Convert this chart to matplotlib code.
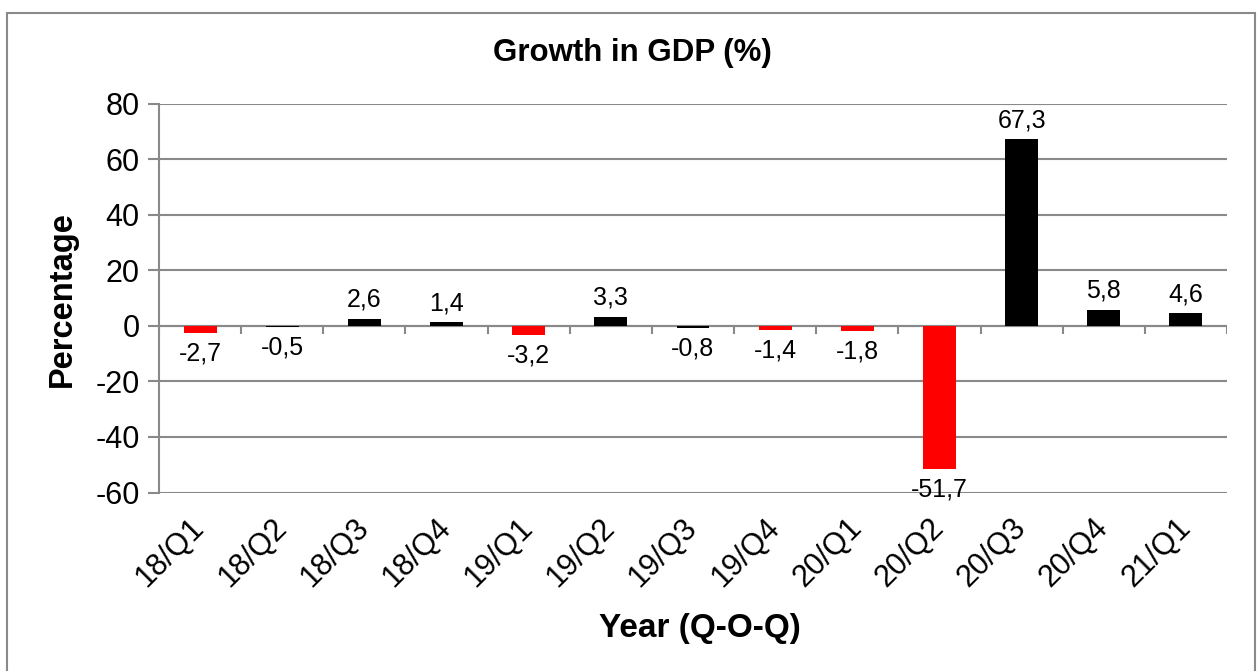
import matplotlib.pyplot as plt
import matplotlib.patches as mpatches
import numpy as np

plt.rcParams['font.family'] = ['Liberation Sans', 'DejaVu Sans']

quarters = ["18/Q1", "18/Q2", "18/Q3", "18/Q4", "19/Q1", "19/Q2", "19/Q3",
            "19/Q4", "20/Q1", "20/Q2", "20/Q3", "20/Q4", "21/Q1"]
growth = [-2.7, -0.5, 2.6, 1.4, -3.2, 3.3, -0.8, -1.4, -1.8, -51.7, 67.3, 5.8, 4.6]
bar_colors = ["red", "black", "black", "black", "red", "black", "black",
              "red", "red", "red", "black", "black", "black"]
yticks = [-60, -40, -20, 0, 20, 40, 60, 80]

grid_gray = "#898989"

fig = plt.figure(figsize=(12.57, 6.71), dpi=100)
ax = fig.add_axes([159 / 1257, 1 - 492.5 / 671, (1227 - 159) / 1257, (492.5 - 104) / 671])

# chart frame
fig.patches.append(mpatches.Rectangle((7 / 1257, -0.01), (1255 - 7) / 1257, (671 - 13) / 671 + 0.01,
                                      transform=fig.transFigure, fill=False,
                                      edgecolor=grid_gray, linewidth=1.5))

x = np.arange(len(quarters))
ax.bar(x, growth, width=0.4, color=bar_colors, zorder=3)

for xi, v in zip(x, growth):
    txt = "{:.1f}".format(v).replace(".", ",")
    if v >= 0:
        ax.annotate(txt, (xi, v), xytext=(0, 5), textcoords="offset points",
                    ha="center", va="bottom", fontsize=18)
    else:
        ax.annotate(txt, (xi, v), xytext=(0, -6), textcoords="offset points",
                    ha="center", va="top", fontsize=18)

ax.set_xlim(-0.5, len(quarters) - 0.5)
ax.set_ylim(-60, 80)
ax.set_yticks(yticks)
ax.set_yticklabels([str(t) for t in yticks], fontsize=22)
ax.yaxis.grid(True, color=grid_gray, linewidth=1.5, zorder=0)
ax.set_axisbelow(True)
ax.tick_params(axis="y", length=8, width=1.5, color=grid_gray, pad=6)

ax.set_xticks(x)
ax.set_xticklabels(quarters, fontsize=22, rotation=45, ha="right", va="center",
                   rotation_mode="anchor")
ax.tick_params(axis="x", length=0, pad=22)

for s in ["top", "right", "bottom"]:
    ax.spines[s].set_visible(False)
ax.spines["left"].set_color(grid_gray)
ax.spines["left"].set_linewidth(1.5)

# horizontal axis at zero with category separators
ax.axhline(0, color=grid_gray, linewidth=1.5, zorder=2)
ax.vlines(np.arange(len(quarters) + 1) - 0.5, 0, -2.9, color=grid_gray, linewidth=1.5, zorder=2)

fig.text(62 / 1257, 1 - 299 / 671, "Percentage", fontsize=23.5, fontweight="bold",
         rotation=90, ha="center", va="center")
fig.text(700 / 1257, 1 - 628 / 671, "Year (Q-O-Q)",
         fontsize=24, fontweight="bold", ha="center", va="center")
fig.text(632 / 1257, 1 - 53 / 671, "Growth in GDP (%)", fontsize=22.5,
         fontweight="bold", ha="center", va="center")

fig.savefig("out.png", dpi=100)
